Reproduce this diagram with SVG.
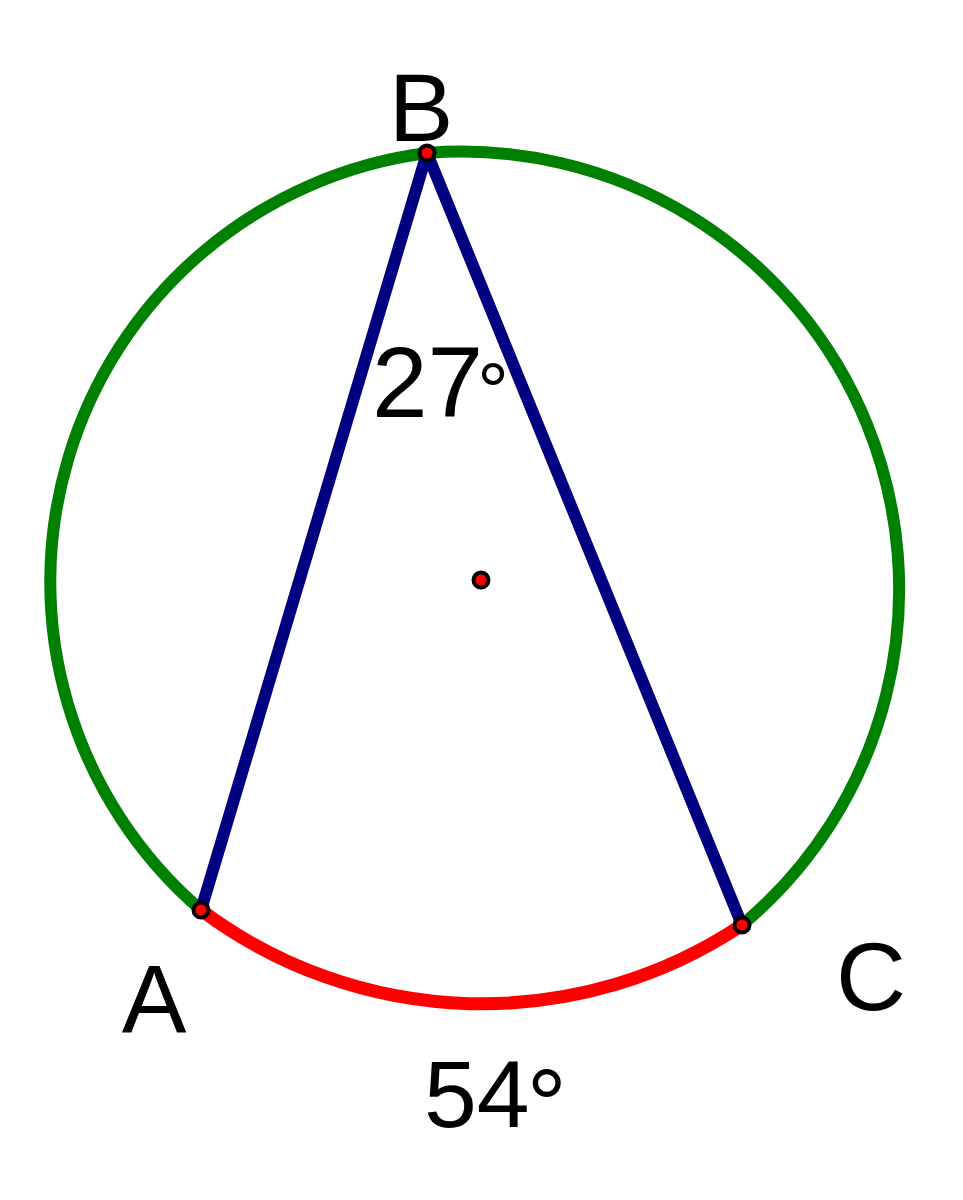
<svg xmlns="http://www.w3.org/2000/svg" width="963" height="1200" viewBox="0 0 963 1200">
  <style>
    .arc { fill: none; stroke-width: 12; stroke-linecap: round; }
    .green { stroke: #008000; }
    .red { stroke: #ff0000; stroke-width: 13; }
    .seg { stroke: #000080; stroke-width: 12; stroke-linecap: round; fill: none; }
    .pt { fill: #ff0000; stroke: #000000; stroke-width: 4; }
    .lbl { font-family: "Liberation Sans", Arial, sans-serif; fill: #000000; }
  </style>
  <rect x="0" y="0" width="963" height="1200" fill="#ffffff"/>
  <g id="connectors">
    <path id="arc-major" class="arc green" d="M 742 925 A 437.5 437.5 0 0 0 427 153 A 432.5 432.5 0 0 0 201 910"/>
    <path id="arc-minor" class="arc red" d="M 201 910 A 468 468 0 0 0 742 925"/>
    <line id="seg-BA" class="seg" x1="427" y1="153" x2="201" y2="910"/>
    <line id="seg-BC" class="seg" x1="427" y1="153" x2="742" y2="925"/>
  </g>
  <g id="node-B">
    <circle class="pt" cx="427" cy="153" r="7.5"/>
    <text class="lbl" x="421" y="141" font-size="97" text-anchor="middle">B</text>
  </g>
  <g id="node-A">
    <circle class="pt" cx="201" cy="910" r="7.5"/>
    <text class="lbl" x="154" y="1032" font-size="97" text-anchor="middle">A</text>
  </g>
  <g id="node-C">
    <circle class="pt" cx="742" cy="925" r="7.5"/>
    <text class="lbl" x="871" y="1010" font-size="97" text-anchor="middle">C</text>
  </g>
  <g id="node-O">
    <circle class="pt" cx="481" cy="580" r="7.5"/>
  </g>
  <g id="label-27">
    <text class="lbl" x="372" y="417" font-size="100">27<tspan font-size="79" dx="-6" dy="2">°</tspan></text>
  </g>
  <g id="label-54">
    <text class="lbl" x="424" y="1127" font-size="95">54<tspan font-size="100" dx="-3" dy="12">°</tspan></text>
  </g>
</svg>
